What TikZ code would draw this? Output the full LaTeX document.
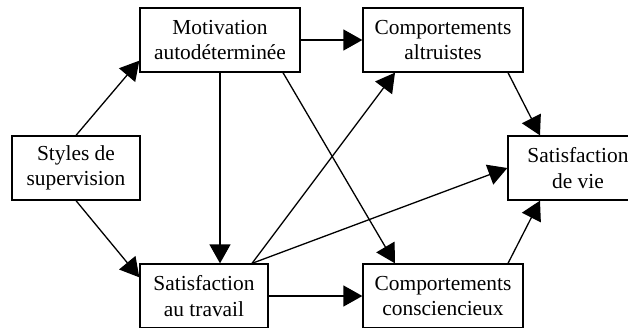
\documentclass[tikz,border=0pt]{standalone}
\usepackage{fontspec}
\setmainfont{Liberation Serif}
\usetikzlibrary{arrows.meta}
\begin{document}
\begin{tikzpicture}[x=1pt,y=-1pt,
  box/.style={draw,line width=1.3pt,inner sep=0pt,align=center,
    font=\fontsize{21.4}{25.5}\selectfont,minimum height=64pt},
  conn/.style={line width=1.3pt,-{Triangle[length=19pt,width=21pt]}}]
\useasboundingbox (0,0) rectangle (628,327);
\node[box,minimum width=160pt] (mot) at (220,40) {Motivation\\autodéterminée};
\node[box,minimum width=160pt] (alt) at (443,40) {Comportements\\altruistes};
\node[box,minimum width=128pt] (sty) at (76,168) {Styles de\\supervision};
\node[box,minimum width=140pt] (vie) at (578,168) {Satisfaction\\de vie};
\node[box,minimum width=128pt] (sat) at (204,296) {Satisfaction\\au travail};
\node[box,minimum width=160pt] (con) at (443,296) {Comportements\\consciencieux};
\draw[conn] (sty.north) -- ([yshift=12pt]mot.south west);
\draw[conn] (sty.south) -- ([yshift=-14pt]sat.north west);
\draw[conn] (mot.east) -- (alt.west);
\draw[conn] (mot.south) -- (mot.south |- sat.north);
\draw[conn] ([xshift=63pt]mot.south) -- ([xshift=-48pt]con.north);
\draw[conn] ([xshift=48pt]sat.north) -- ([xshift=-48pt]alt.south);
\draw[conn] ([xshift=48pt]sat.north) -- (vie.west);
\draw[conn] (sat.east) -- (con.west);
\draw[conn] ([xshift=65pt]alt.south) -- ([xshift=-38pt]vie.north);
\draw[conn] ([xshift=65pt]con.north) -- ([xshift=-38pt]vie.south);
\end{tikzpicture}
\end{document}
